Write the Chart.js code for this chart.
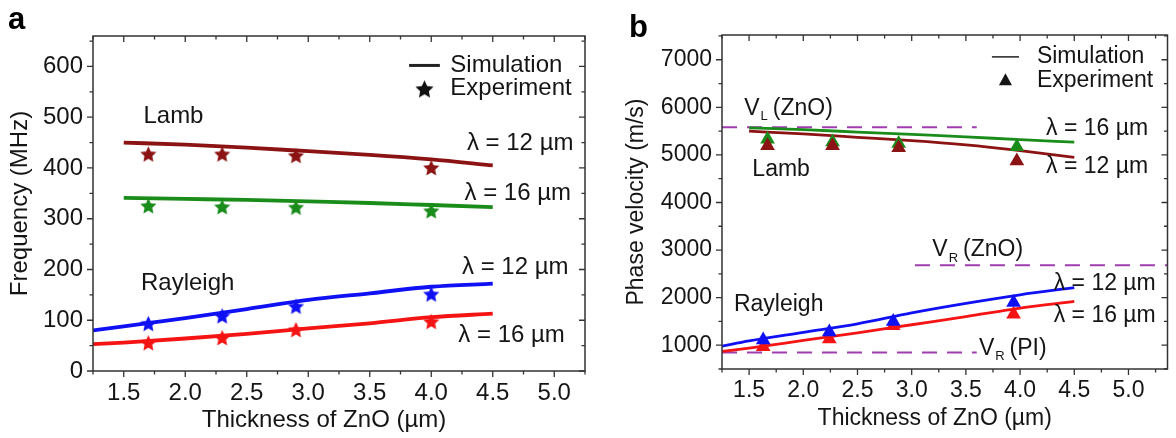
<!DOCTYPE html>
<html>
<head>
<meta charset="utf-8">
<script src="https://cdn.jsdelivr.net/npm/chart.js@4.4.0/dist/chart.umd.min.js"></script>
<style>
  body { margin: 0; background: #fff; }
  #wrap { position: relative; width: 1176px; height: 438px; }
  canvas { position: absolute; top: 0; }
</style>
</head>
<body>
<div id="wrap">
  <canvas id="chartA" width="590" height="438" style="left:0"></canvas>
  <canvas id="chartB" width="586" height="438" style="left:590px"></canvas>
</div>
<script>
// shared x axis
const xTicks = [1.5, 2.0, 2.5, 3.0, 3.5, 4.0, 4.5, 5.0];
const lambSimX = [1.5, 2.0, 2.5, 3.0, 3.5, 4.0, 4.5];
const rayleighSimX = [1.25, 1.5, 2.0, 2.5, 3.0, 3.5, 4.0, 4.5];

// panel a: frequency (MHz)
const freqTicks = [0, 100, 200, 300, 400, 500, 600];
const lambFreq12 = [450, 446, 440, 433, 426, 417, 405];
const lambFreq16 = [341, 339, 337, 334, 331, 327, 323];
const rayFreq12 = [80, 88, 104, 122, 140, 153, 166, 172];
const rayFreq16 = [53, 56, 64, 73, 84, 94, 106, 113];
const expFreqX = [1.7, 2.3, 2.9, 4.0];
const expLambFreq12 = [428, 428, 425, 401];
const expLambFreq16 = [326, 324, 323, 316];
const expRayFreq12 = [94, 109, 128, 152];
const expRayFreq16 = [56, 66, 82, 98];

// panel b: phase velocity (m/s)
const velTicks = [1000, 2000, 3000, 4000, 5000, 6000, 7000];
const lambVel12 = [5500, 5440, 5370, 5300, 5210, 5090, 4950];
const lambVel16 = [5570, 5530, 5480, 5430, 5380, 5320, 5270];
const rayVel12 = [980, 1090, 1270, 1450, 1680, 1880, 2060, 2210];
const rayVel16 = [870, 940, 1100, 1260, 1430, 1600, 1780, 1920];
const expLambVelX = [1.67, 2.27, 2.88, 3.97];
const expLambVel12 = [5190, 5190, 5150, 4870];
const expLambVel16 = [5330, 5270, 5240, 5170];
const expRayVelX = [1.63, 2.24, 2.83, 3.94];
const expRayVel12 = [1110, 1280, 1500, 1900];
const expRayVel16 = [970, 1130, 1410, 1650];
// reference velocities
const vL_ZnO = 5580, vL_ZnO_X = [1.25, 3.6];
const vR_ZnO = 2680, vR_ZnO_X = [3.03, 5.36];
const vR_PI = 845, vR_PI_X = [1.25, 3.6];

const FONT = '"Liberation Sans", Arial, sans-serif';
const DARKRED = '#8c1313', GREEN = '#1a8c1a', BLUE = '#1010f5', RED = '#f51414', PURPLE = '#a03cb0';

const zip = (xs, ys) => xs.map((x, i) => ({ x: x, y: ys[i] }));
const flat = (xs, v) => xs.map(x => ({ x: x, y: v }));

function makeStar(color, r) {
  const c = document.createElement('canvas');
  c.width = c.height = Math.ceil(2 * r + 2);
  const g = c.getContext('2d');
  g.fillStyle = color;
  g.beginPath();
  for (let i = 0; i < 10; i++) {
    const rad = i % 2 ? r * 0.48 : r;
    const a = -Math.PI / 2 + i * Math.PI / 5;
    g.lineTo(c.width / 2 + rad * Math.cos(a), c.height / 2 + 1 + rad * Math.sin(a));
  }
  g.closePath();
  g.fill();
  return c;
}

function simLine(data, color, w) {
  return { data: data, showLine: true, borderColor: color, borderWidth: w, pointRadius: 0,
    cubicInterpolationMode: 'monotone', order: 2 };
}
function dashLine(data) {
  return { data: data, showLine: true, borderColor: PURPLE, borderWidth: 2, borderDash: [15, 10],
    pointRadius: 0, order: 3 };
}
function starSet(data, color) {
  return { data: data, pointStyle: makeStar(color, 8.5), order: 1 };
}
function triSet(data, color) {
  return { data: data, pointStyle: 'triangle', pointRadius: 8.5, backgroundColor: color,
    borderColor: color, borderWidth: 0, order: 1 };
}

// frame with major/minor ticks on all four sides (outward bottom/left, inward top/right)
const frame = {
  id: 'frame',
  afterDatasetsDraw(chart) {
    const { ctx, chartArea: a, scales } = chart;
    ctx.save();
    ctx.strokeStyle = '#333';
    ctx.lineWidth = 1.5;
    ctx.strokeRect(a.left, a.top, a.right - a.left, a.bottom - a.top);
    ctx.lineWidth = 1.3;
    const side = (scale, horiz) => {
      const vals = scale.ticks.map(t => t.value);
      const step = (vals[1] - vals[0]) / 2;
      const marks = [];
      for (let v = vals[0] - step; v <= scale.max + 1e-9; v += step) {
        if (v < scale.min - 1e-9) continue;
        const major = vals.some(m => Math.abs(m - v) < 1e-6);
        marks.push({ p: scale.getPixelForValue(v), len: major ? 6 : 3.5 });
      }
      ctx.beginPath();
      marks.forEach(m => {
        if (horiz) {
          ctx.moveTo(m.p, a.bottom); ctx.lineTo(m.p, a.bottom + m.len);
          ctx.moveTo(m.p, a.top); ctx.lineTo(m.p, a.top + m.len);
        } else {
          ctx.moveTo(a.left, m.p); ctx.lineTo(a.left - m.len, m.p);
          ctx.moveTo(a.right, m.p); ctx.lineTo(a.right - m.len, m.p);
        }
      });
      ctx.stroke();
    };
    side(scales.x, true);
    side(scales.y, false);
    ctx.restore();
  }
};

// text annotations, legend, axis titles, panel letter
const notes = {
  id: 'notes',
  afterDraw(chart, args, o) {
    const { ctx, chartArea: a, scales: { x, y } } = chart;
    ctx.save();
    ctx.fillStyle = '#151515';
    ctx.textBaseline = 'middle';
    ctx.font = o.size + 'px ' + FONT;
    o.labels.forEach(l => {
      let px = x.getPixelForValue(l.x), py = y.getPixelForValue(l.y);
      if (l.sub) {
        ctx.fillText(l.text, px, py);
        px += ctx.measureText(l.text).width + 1;
        ctx.font = '13px ' + FONT;
        ctx.fillText(l.sub, px, py + 8);
        px += ctx.measureText(l.sub).width + 5;
        ctx.font = o.size + 'px ' + FONT;
        ctx.fillText(l.after, px, py);
      } else {
        ctx.fillText(l.text, px, py);
      }
    });
    // legend
    const lg = o.legend;
    const lx0 = x.getPixelForValue(lg.lineX[0]), lx1 = x.getPixelForValue(lg.lineX[1]);
    const ly1 = y.getPixelForValue(lg.y[0]), ly2 = y.getPixelForValue(lg.y[1]);
    ctx.strokeStyle = '#222';
    ctx.lineWidth = lg.lineW;
    ctx.beginPath(); ctx.moveTo(lx0, ly1); ctx.lineTo(lx1, ly1); ctx.stroke();
    const mx = (lx0 + lx1) / 2;
    if (lg.marker === 'star') {
      const s = makeStar('#111', 9.5);
      ctx.drawImage(s, mx - s.width / 2, ly2 - s.height / 2);
    } else {
      ctx.beginPath();
      ctx.moveTo(mx, ly2 - 7); ctx.lineTo(mx + 6.5, ly2 + 5); ctx.lineTo(mx - 6.5, ly2 + 5);
      ctx.closePath(); ctx.fill();
    }
    const tx = x.getPixelForValue(lg.textX);
    ctx.fillText('Simulation', tx, ly1);
    ctx.fillText('Experiment', tx, ly2);
    // axis titles
    ctx.textAlign = 'center';
    ctx.fillText('Thickness of ZnO (\u00b5m)', (a.left + a.right) / 2 + o.xTitleShift, o.xTitleY);
    ctx.save();
    ctx.translate(o.yTitleX, (a.top + a.bottom) / 2);
    ctx.rotate(-Math.PI / 2);
    ctx.fillText(o.yTitle, 0, 0);
    ctx.restore();
    // panel letter
    ctx.textAlign = 'left';
    ctx.textBaseline = 'alphabetic';
    ctx.font = 'bold 31px ' + FONT;
    ctx.fillStyle = '#000';
    ctx.fillText(o.letter, o.letterX, o.letterY);
    ctx.restore();
  }
};

function axes(xMax, yMin, yMax, yTickVals, yWidth, xHeight, size) {
  const tickFont = { family: FONT, size: size };
  return {
    x: {
      type: 'linear', min: 1.25, max: xMax,
      afterBuildTicks: s => { s.ticks = xTicks.map(v => ({ value: v })); },
      afterFit: s => { s.height = xHeight; },
      grid: { display: false, drawTicks: false }, border: { display: false },
      ticks: { font: tickFont, color: '#151515', padding: 8, maxRotation: 0,
        callback: v => v.toFixed(1) }
    },
    y: {
      type: 'linear', min: yMin, max: yMax,
      afterBuildTicks: s => { s.ticks = yTickVals.map(v => ({ value: v })); },
      afterFit: s => { s.width = yWidth; },
      grid: { display: false, drawTicks: false }, border: { display: false },
      ticks: { font: tickFont, color: '#151515', padding: 10, callback: v => String(v) }
    }
  };
}

const base = {
  responsive: false, animation: false, events: [],
  plugins: { legend: { display: false }, tooltip: { enabled: false } }
};

new Chart(document.getElementById('chartA'), {
  type: 'scatter',
  data: {
    datasets: [
      starSet(zip(expFreqX, expLambFreq12), DARKRED),
      starSet(zip(expFreqX, expLambFreq16), GREEN),
      starSet(zip(expFreqX, expRayFreq12), BLUE),
      starSet(zip(expFreqX, expRayFreq16), RED),
      simLine(zip(lambSimX, lambFreq12), DARKRED, 3.8),
      simLine(zip(lambSimX, lambFreq16), GREEN, 3.8),
      simLine(zip(rayleighSimX, rayFreq12), BLUE, 3.8),
      simLine(zip(rayleighSimX, rayFreq16), RED, 3.8)
    ]
  },
  options: Object.assign({}, base, {
    layout: { padding: { top: 36, right: 3, left: 0, bottom: 0 } },
    scales: axes(5.25, 0, 660, freqTicks, 93, 67, 24),
    plugins: Object.assign({}, base.plugins, {
      notes: {
        size: 24,
        labels: [
          { text: 'Lamb', x: 1.66, y: 501 },
          { text: 'Rayleigh', x: 1.64, y: 172 },
          { text: '\u03bb = 12 \u00b5m', x: 4.29, y: 448 },
          { text: '\u03bb = 16 \u00b5m', x: 4.27, y: 349 },
          { text: '\u03bb = 12 \u00b5m', x: 4.25, y: 205 },
          { text: '\u03bb = 16 \u00b5m', x: 4.22, y: 71 }
        ],
        legend: { lineX: [3.82, 4.07], y: [602, 556], textX: 4.155, marker: 'star', lineW: 3 },
        xTitleShift: -15, xTitleY: 420, yTitle: 'Frequency (MHz)', yTitleX: 20,
        letter: 'a', letterX: 8, letterY: 29
      }
    })
  }),
  plugins: [frame, notes]
});

new Chart(document.getElementById('chartB'), {
  type: 'scatter',
  data: {
    datasets: [
      triSet(zip(expLambVelX, expLambVel12), DARKRED),
      triSet(zip(expLambVelX, expLambVel16), GREEN),
      triSet(zip(expRayVelX, expRayVel12), BLUE),
      triSet(zip(expRayVelX, expRayVel16), RED),
      simLine(zip(lambSimX, lambVel12), DARKRED, 2.8),
      simLine(zip(lambSimX, lambVel16), GREEN, 2.8),
      simLine(zip(rayleighSimX, rayVel12), BLUE, 2.8),
      simLine(zip(rayleighSimX, rayVel16), RED, 2.8),
      dashLine(flat(vL_ZnO_X, vL_ZnO)),
      dashLine(flat(vR_ZnO_X, vR_ZnO)),
      dashLine(flat(vR_PI_X, vR_PI))
    ]
  },
  options: Object.assign({}, base, {
    layout: { padding: { top: 35, right: 3, left: 0, bottom: 0 } },
    scales: axes(5.36, 500, 7520, velTicks, 132, 69, 23),
    plugins: Object.assign({}, base.plugins, {
      notes: {
        size: 23,
        labels: [
          { text: 'V', sub: 'L', after: '(ZnO)', x: 1.455, y: 5980 },
          { text: 'V', sub: 'R', after: '(ZnO)', x: 3.19, y: 3000 },
          { text: 'V', sub: 'R', after: '(PI)', x: 3.62, y: 936 },
          { text: 'Lamb', x: 1.53, y: 4700 },
          { text: 'Rayleigh', x: 1.36, y: 1850 },
          { text: '\u03bb = 16 \u00b5m', x: 4.24, y: 5553 },
          { text: '\u03bb = 12 \u00b5m', x: 4.24, y: 4745 },
          { text: '\u03bb = 12 \u00b5m', x: 4.31, y: 2298 },
          { text: '\u03bb = 16 \u00b5m', x: 4.31, y: 1617 }
        ],
        legend: { lineX: [3.74, 3.99], y: [7060, 6570], textX: 4.155, marker: 'tri', lineW: 1.5 },
        xTitleShift: -10, xTitleY: 419, yTitle: 'Phase velocity (m/s)', yTitleX: 47,
        letter: 'b', letterX: 39, letterY: 37
      }
    })
  }),
  plugins: [frame, notes]
});
</script>
</body>
</html>
